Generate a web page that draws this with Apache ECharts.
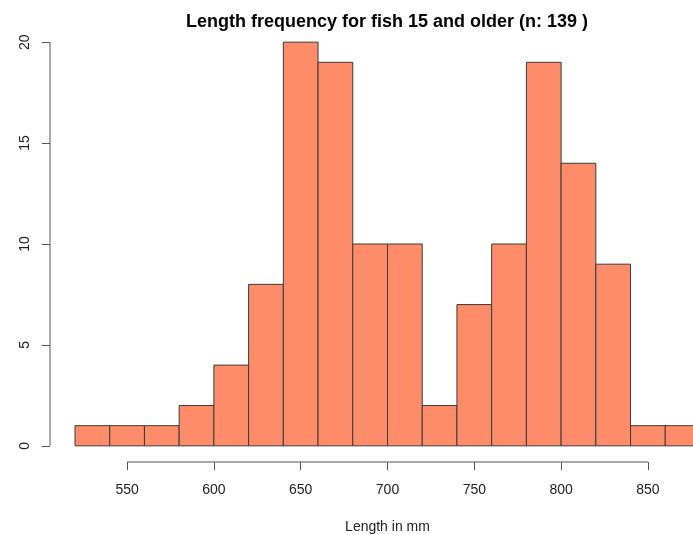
<!DOCTYPE html>
<html>
<head>
<meta charset="utf-8">
<script src="https://cdn.jsdelivr.net/npm/echarts@6/dist/echarts.min.js"></script>
<style>
  html, body { margin: 0; padding: 0; background: #fff; }
  #chart { width: 693px; height: 535px; }
</style>
</head>
<body>
<div id="chart"></div>
<script>
// Histogram bins (lower edge, mm) and counts
const binStarts = [520, 540, 560, 580, 600, 620, 640, 660, 680, 700, 720, 740, 760, 780, 800, 820, 840, 860];
const counts    = [1, 1, 1, 2, 4, 8, 20, 19, 10, 10, 2, 7, 10, 19, 14, 9, 1, 1];
const binWidth = 20;

// Tick labels
const xTicks = [550, 600, 650, 700, 750, 800, 850];
const yTicks = [0, 5, 10, 15, 20];

const titleText = 'Length frequency for fish 15 and older (n: 139 )';
const xLabel = 'Length in mm';

// Axis ranges with the usual 4% padding around the data range
const xMin = 520, xMax = 880, yMin = 0, yMax = 20;
const xPad = (xMax - xMin) * 0.04, yPad = (yMax - yMin) * 0.04;

const FONT = 'Liberation Sans, Arial, Helvetica, sans-serif';
const AXIS_COLOR = '#555';

const barData = binStarts.map((s, i) => [s, s + binWidth, counts[i]]);

const chart = echarts.init(document.getElementById('chart'), null, { renderer: 'canvas' });

chart.setOption({
  animation: false,
  backgroundColor: '#fff',
  title: {
    text: titleText,
    left: 382,
    top: 8,
    textAlign: 'center',
    textStyle: { fontFamily: FONT, fontSize: 18, fontWeight: 'bold', color: '#000' }
  },
  // plot region runs past the right edge of the page
  grid: { left: 50, top: 26, width: 675, height: 436, containLabel: false, outerBoundsMode: 'none' },
  xAxis: {
    type: 'value',
    min: xMin - xPad,
    max: xMax + xPad,
    splitLine: { show: false },
    axisLine: { show: false, onZero: false },
    axisTick: { show: true, length: 8, lineStyle: { color: AXIS_COLOR }, customValues: xTicks },
    axisLabel: { customValues: xTicks, margin: 21, fontFamily: FONT, fontSize: 14, color: '#222' },
    name: xLabel,
    nameLocation: 'middle',
    nameGap: 58,
    nameTextStyle: { fontFamily: FONT, fontSize: 14, color: '#222' }
  },
  yAxis: {
    type: 'value',
    min: yMin - yPad,
    max: yMax + yPad,
    splitLine: { show: false },
    axisLine: { show: false, onZero: false },
    axisTick: { show: true, length: 8, lineStyle: { color: AXIS_COLOR }, customValues: yTicks },
    axisLabel: { customValues: yTicks, rotate: 90, margin: 18, fontFamily: FONT, fontSize: 14, color: '#222' }
  },
  series: [
    {
      // histogram bars
      type: 'custom',
      data: barData,
      renderItem: function (params, api) {
        const p0 = api.coord([api.value(0), 0]);
        const p1 = api.coord([api.value(1), api.value(2)]);
        return {
          type: 'rect',
          shape: { x: p0[0], y: p1[1], width: p1[0] - p0[0], height: p0[1] - p1[1] },
          style: { fill: '#FF8C69', stroke: '#3a3a3a', lineWidth: 1 }
        };
      },
      encode: { x: [0, 1], y: 2 },
      z: 2
    },
    {
      // axis lines spanning only the first to last tick
      type: 'custom',
      data: [[0]],
      renderItem: function (params, api) {
        const xa = api.coord([xTicks[0], yMin - yPad]);
        const xb = api.coord([xTicks[xTicks.length - 1], yMin - yPad]);
        const ya = api.coord([xMin - xPad, yTicks[0]]);
        const yb = api.coord([xMin - xPad, yTicks[yTicks.length - 1]]);
        return {
          type: 'group',
          children: [
            { type: 'line', shape: { x1: xa[0], y1: xa[1], x2: xb[0], y2: xb[1] }, style: { stroke: AXIS_COLOR, lineWidth: 1 } },
            { type: 'line', shape: { x1: ya[0], y1: ya[1], x2: yb[0], y2: yb[1] }, style: { stroke: AXIS_COLOR, lineWidth: 1 } }
          ]
        };
      },
      silent: true,
      z: 1
    }
  ]
});
</script>
</body>
</html>
